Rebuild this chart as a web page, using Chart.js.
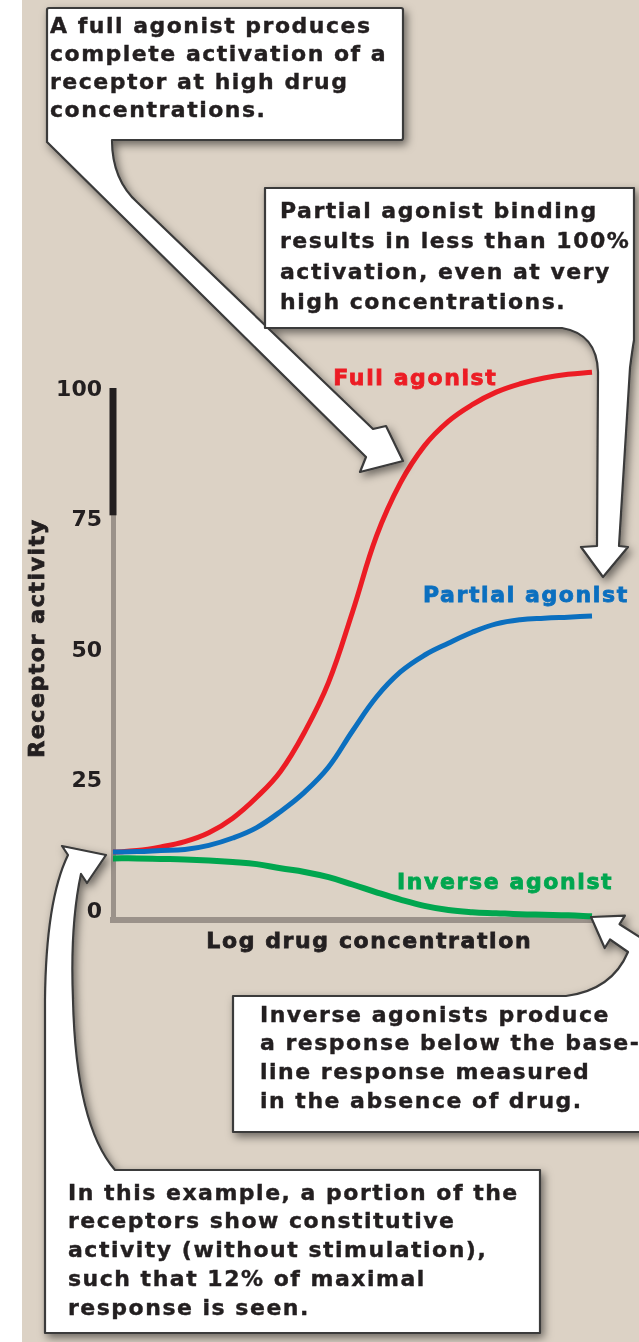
<!DOCTYPE html>
<html>
<head>
<meta charset="utf-8">
<title>Receptor activity</title>
<script src="https://cdn.jsdelivr.net/npm/chart.js@4.4.1/dist/chart.umd.min.js"></script>
<style>
    html, body { margin: 0; padding: 0; background: #fff; }
    #page { position: relative; width: 639px; height: 1342px; overflow: hidden; }
    #bg { position: absolute; left: 22px; top: 0; right: 0; bottom: 0; background: #dcd2c5; }
    #chart, #callouts { position: absolute; left: 0; top: 0; }
    .note {
        position: absolute;
        font-family: "DejaVu Sans", sans-serif;
        font-weight: bold;
        font-size: 22px;
        letter-spacing: 1.5px;
        color: #231f20;
        -webkit-text-stroke: 0.4px #231f20;
        white-space: nowrap;
    }
</style>
</head>
<body>
<div id="page">
    <div id="bg"></div>
    <canvas id="chart" width="639" height="1342"></canvas>

    <!-- callout boxes with their arrows -->
    <svg id="callouts" width="639" height="1342">
        <defs>
            <filter id="shadow" x="-20%" y="-20%" width="140%" height="140%">
                <feDropShadow dx="3" dy="4" stdDeviation="4" flood-color="#000" flood-opacity="0.5"/>
            </filter>
        </defs>
        <g fill="#fff" stroke="#3a3a3a" stroke-width="2.2" stroke-linejoin="round" filter="url(#shadow)">
            <path d="M47 10 Q47 8 49 8 L401 8 Q403 8 403 10 L403 138 Q403 140 401 140 L112 140 Q112 180 138 203 L373 429 L386 426 L403 461 L360 472 L366 457 L47 142 Z"/>
            <path d="M265 188 L634 188 L634 340 Q632 352 630 368 L619 546 L628 547 L603 577 L581 547 L597 546 L598 372 Q597 334 562 328 L265 328 Z"/>
            <path d="M233 996 L566 996 Q612 990 628 952 L610 939.5 L604.7 948 L591 917 L624.9 915.7 L619.6 924.2 L660 950 L660 1132 L233 1132 Z"/>
            <path d="M45 1333 L45 1000 Q46 900 68 855 L62 846 L106 855 L87 883 L81 874 Q70 925 73 1000 Q76 1125 115 1170 L540 1170 L540 1333 Z"/>
        </g>
    </svg>

    <div class="note" style="left:50px; top:11.6px; line-height:28.3px;">A full agonist produces<br>complete activation of a<br>receptor at high drug<br>concentrations.</div>
    <div class="note" style="left:280px; top:195.5px; line-height:30.5px;">Partial agonist binding<br>results in less than 100%<br>activation, even at very<br>high concentrations.</div>
    <div class="note" style="left:260px; top:1000.5px; line-height:28.9px;">Inverse agonists produce<br>a response below the base-<br>line response measured<br>in the absence of drug.</div>
    <div class="note" style="left:68px; top:1178.6px; line-height:28.8px;">In this example, a portion of the<br>receptors show constitutive<br>activity (without stimulation),<br>such that 12% of maximal<br>response is seen.</div>
</div>

<script>
/* ---------- данные ---------- */
const logConc = [0, 0.5, 1, 1.5, 2, 2.5, 3, 3.5, 4, 4.5, 5, 5.5, 6, 6.5, 7, 7.5, 8, 8.5, 9, 9.5, 10];

const fullAgonist    = [11.5, 11.8, 12.5, 13.5, 15.2, 18.0, 22.0, 27.0, 34.5, 44.0, 57.5,
                        72.0, 82.2, 89.3, 94.0, 97.2, 99.6, 101.2, 102.3, 103.0, 103.4];
const partialAgonist = [11.5, 11.6, 11.8, 12.0, 12.8, 14.2, 16.2, 19.3, 23.0, 27.8, 34.7,
                        41.2, 46.0, 49.2, 51.5, 53.6, 55.2, 56.0, 56.3, 56.5, 56.7];
const inverseAgonist = [10.3, 10.3, 10.2, 10.1, 9.9, 9.6, 9.2, 8.4, 7.7, 6.7, 5.3,
                        3.8, 2.4, 1.2, 0.4, 0.0, -0.2, -0.4, -0.5, -0.6, -0.8];

const seriesNames = ["Full agonist", "Partial agonist", "Inverse agonist"];
const yTicks = [0, 25, 50, 75, 100];
const xTitle = "Log drug concentration";
const yTitle = "Receptor activity";

const FONT = "'DejaVu Sans', sans-serif";
const INK = "#231f20";
const AXIS_GRAY = "#9b928a";

function toPoints(values) {
    return values.map((v, i) => ({ x: logConc[i], y: v }));
}

// текст с лёгкой обводкой — в оригинале шрифт жирнее
function heavyText(ctx, text, x, y) {
    ctx.strokeStyle = ctx.fillStyle;
    ctx.lineWidth = 0.8;
    ctx.strokeText(text, x, y);
    ctx.fillText(text, x, y);
}

/* подписи кривых, чёрный отрезок оси и заголовки осей */
const annotations = {
    id: "annotations",
    afterDatasetsDraw(chart) {
        const { ctx, chartArea, scales: { x, y } } = chart;
        // где стоят подписи серий (в единицах данных)
        const labelAt = [[4.6, 102], [6.47, 60.5], [5.93, 5.6]];

        ctx.save();
        ctx.font = "bold 22px " + FONT;
        ctx.letterSpacing = "1.6px";
        ctx.textBaseline = "middle";
        ctx.textAlign = "left";
        chart.data.datasets.forEach((ds, i) => {
            ctx.fillStyle = ds.borderColor;
            heavyText(ctx, ds.label, x.getPixelForValue(labelAt[i][0]), y.getPixelForValue(labelAt[i][1]));
        });

        // верхняя часть оси Y — толстая чёрная
        const top = y.getPixelForValue(100) - 2;
        ctx.fillStyle = INK;
        ctx.fillRect(chartArea.left - 3.5, top, 7, y.getPixelForValue(76) - top);

        // заголовки осей
        ctx.fillStyle = INK;
        ctx.textAlign = "center";
        heavyText(ctx, xTitle, x.getPixelForValue(5.35), chartArea.bottom + 22);

        ctx.translate(38, y.getPixelForValue(52.5));
        ctx.rotate(-Math.PI / 2);
        heavyText(ctx, yTitle, 0, 0);
        ctx.restore();
    }
};

new Chart(document.getElementById("chart"), {
    type: "line",
    data: {
        datasets: [
            { label: seriesNames[0], data: toPoints(fullAgonist),    borderColor: "#ec1c24", borderWidth: 5, order: 1 },
            { label: seriesNames[1], data: toPoints(partialAgonist), borderColor: "#0b6fbf", borderWidth: 5, order: 0 },
            { label: seriesNames[2], data: toPoints(inverseAgonist), borderColor: "#00a64f", borderWidth: 6, order: 2 }
        ]
    },
    options: {
        responsive: false,
        animation: false,
        events: [],
        clip: false,
        datasets: {
            line: { pointRadius: 0, tension: 0.4, fill: false, clip: false, borderCapStyle: "butt" }
        },
        layout: { padding: { left: 0, right: 47, top: 390, bottom: 412 } },
        plugins: {
            legend: { display: false },
            tooltip: { enabled: false }
        },
        scales: {
            x: {
                type: "linear",
                min: 0,
                max: 10,
                grid: { display: false, drawTicks: false },
                border: { color: AXIS_GRAY, width: 6 },
                ticks: { display: false },
                afterFit: scale => { scale.height = 10; }
            },
            y: {
                type: "linear",
                min: -1.5,
                max: 100,
                grid: { display: false, drawTicks: false },
                border: { color: AXIS_GRAY, width: 5 },
                afterBuildTicks: scale => { scale.ticks = yTicks.map(v => ({ value: v })); },
                afterFit: scale => { scale.width = 113; },
                ticks: {
                    padding: 11,
                    color: INK,
                    font: { family: FONT, size: 22, weight: "bold" },
                    callback: v => String(v)
                }
            }
        }
    },
    plugins: [annotations]
});
</script>
</body>
</html>
